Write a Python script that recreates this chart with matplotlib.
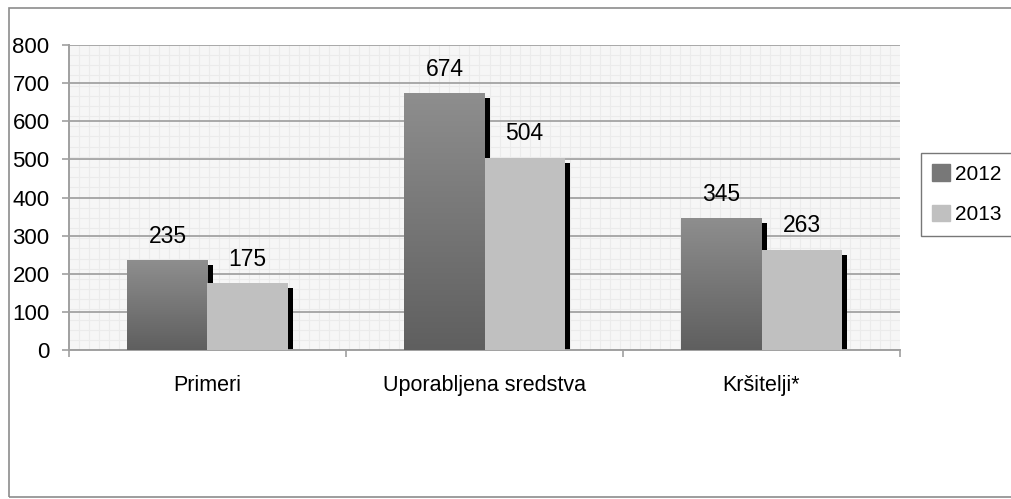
import numpy as np
import matplotlib
matplotlib.use('Agg')
import matplotlib.pyplot as plt
from matplotlib.patches import Rectangle
from matplotlib.transforms import ScaledTranslation
from matplotlib.ticker import MultipleLocator, FixedLocator

categories = ['Primeri', 'Uporabljena sredstva', 'Kršitelji*']
series_names = ['2012', '2013']
values_2012 = [235, 674, 345]
values_2013 = [175, 504, 263]

plt.rcParams['font.family'] = ['Liberation Sans', 'DejaVu Sans']

fig = plt.figure(figsize=(10.11, 4.99), dpi=100)
ax = fig.add_axes([69 / 1011, 149 / 499, 831 / 1011, 305 / 499])

# outer chart border
fig.patches.append(Rectangle((9 / 1011, 2 / 499), 1.0, 1 - 10 / 499, transform=fig.transFigure,
                             fill=False, edgecolor='#8c8c8c', linewidth=1.2, zorder=0))

ax.set_facecolor('#f6f6f6')
ax.set_xlim(0, 3)
ax.set_ylim(0, 800)

x = np.arange(len(categories)) + 0.5
w = 0.289

shadow = ScaledTranslation(5 / 100, -5 / 100, fig.dpi_scale_trans)
ax.bar(x - w / 2, values_2012, w, color='black', transform=ax.transData + shadow, zorder=2)
ax.bar(x + w / 2, values_2013, w, color='black', transform=ax.transData + shadow, zorder=2)

bars12 = ax.bar(x - w / 2, values_2012, w, color='#7a7a7a', zorder=3, label=series_names[0])
bars13 = ax.bar(x + w / 2, values_2013, w, color='#c0c0c0', zorder=4, label=series_names[1])

# vertical gradient on the 2012 bars
grad = np.linspace(0, 1, 256).reshape(-1, 1)
cmap = matplotlib.colors.LinearSegmentedColormap.from_list('g', ['#5f5f5f', '#8e8e8e'])
for b in bars12:
    im = ax.imshow(grad, cmap=cmap, aspect='auto', origin='lower',
                   extent=(b.get_x(), b.get_x() + b.get_width(), 0, b.get_height()), zorder=3.5)
    im.set_clip_path(b)

for xi, v in zip(x - w / 2, values_2012):
    ax.annotate(str(v), (xi, v), xytext=(0, 9), textcoords='offset points',
                ha='center', va='bottom', fontsize=16.5, zorder=6)
for xi, v in zip(x + w / 2, values_2013):
    ax.annotate(str(v), (xi, v), xytext=(0, 9), textcoords='offset points',
                ha='center', va='bottom', fontsize=16.5, zorder=6)

# grid
ax.yaxis.set_major_locator(MultipleLocator(100))
ax.yaxis.set_minor_locator(MultipleLocator(800 / 30))
ax.xaxis.set_minor_locator(MultipleLocator(3 / 83))
ax.grid(which='minor', color='#ebebeb', linewidth=0.8, zorder=0)
ax.grid(which='major', axis='y', color='#a8a8a8', linewidth=1.4, zorder=1)
ax.set_axisbelow(True)
ax.tick_params(which='minor', length=0)

ax.xaxis.set_major_locator(FixedLocator([0, 1, 2, 3]))
ax.set_xticklabels([])
ax.xaxis.set_minor_formatter(matplotlib.ticker.NullFormatter())
for xi, c in zip(x, categories):
    ax.text(xi, -0.115, c, transform=ax.get_xaxis_transform(), ha='center', va='center', fontsize=15.5)

ax.tick_params(axis='both', which='major', direction='out', length=5, width=1.2, color='#a0a0a0',
               labelsize=16)
ax.tick_params(axis='y', pad=9)
ax.tick_params(axis='x', labelbottom=False)
for s in ['top', 'right']:
    ax.spines[s].set_visible(False)
for s in ['left', 'bottom']:
    ax.spines[s].set_color('#a0a0a0')
    ax.spines[s].set_linewidth(1.4)

leg = fig.legend(handles=[Rectangle((0, 0), 1, 1, color='#787878'), Rectangle((0, 0), 1, 1, color='#c0c0c0')],
                 labels=series_names, loc='upper left', bbox_to_anchor=(921 / 1011, 1 - 153 / 499),
                 fontsize=15, frameon=True, fancybox=False, handlelength=0.85, handleheight=0.85,
                 handletextpad=0.25, labelspacing=1.0, borderpad=0.55, borderaxespad=0)
leg.get_frame().set_edgecolor('#555555')
leg.get_frame().set_linewidth(1.0)

fig.savefig('out.png', dpi=100)
